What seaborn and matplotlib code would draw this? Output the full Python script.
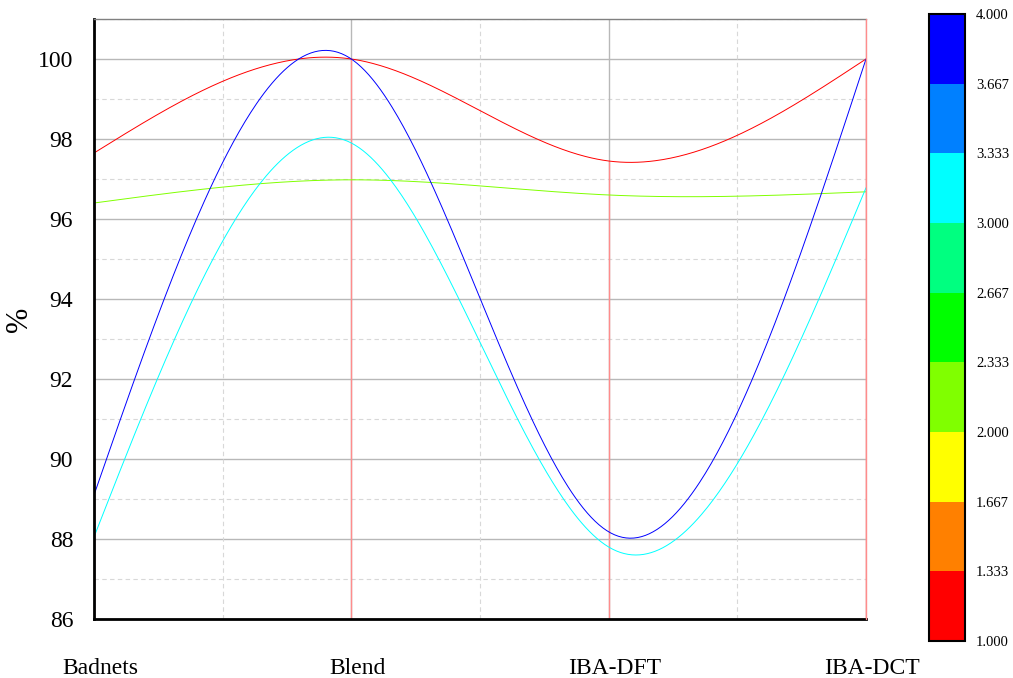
import numpy as np
import pandas as pd
import matplotlib
matplotlib.use("Agg")
import matplotlib.pyplot as plt
import matplotlib.colors as mcolors
import matplotlib.colorbar as mcolorbar
import matplotlib.transforms as mtransforms
import seaborn as sns

categories = ["Badnets", "Blend", "IBA-DFT", "IBA-DCT"]
series_red = [97.65, 100.0, 97.45, 100.0]
series_green = [96.40, 96.98, 96.60, 96.68]
series_cyan = [88.05, 97.90, 87.80, 96.78]
series_blue = [89.10, 100.0, 88.18, 100.0]
series_levels = [1, 2, 3, 4]
cbar_ticks = ["1.000", "1.333", "1.667", "2.000", "2.333", "2.667", "3.000", "3.333", "3.667", "4.000"]
cbar_colors = ["#FF0000", "#FF8000", "#FFFF00", "#80FF00", "#00FF00",
               "#00FF80", "#00FFFF", "#0080FF", "#0000FF"]

sns.set_theme(style="white")
plt.rcParams["font.family"] = ["Liberation Serif", "DejaVu Serif"]


def natural_spline(x, y, xs):
    x = np.asarray(x, float)
    y = np.asarray(y, float)
    n = len(x)
    h = np.diff(x)
    A = np.zeros((n, n))
    b = np.zeros(n)
    A[0, 0] = 1
    A[-1, -1] = 1
    for i in range(1, n - 1):
        A[i, i - 1] = h[i - 1]
        A[i, i] = 2 * (h[i - 1] + h[i])
        A[i, i + 1] = h[i]
        b[i] = 6 * ((y[i + 1] - y[i]) / h[i] - (y[i] - y[i - 1]) / h[i - 1])
    M = np.linalg.solve(A, b)
    out = np.empty_like(xs)
    for k, xv in enumerate(xs):
        i = min(max(np.searchsorted(x, xv) - 1, 0), n - 2)
        t0 = x[i + 1] - xv
        t1 = xv - x[i]
        hi = h[i]
        out[k] = (M[i] * t0 ** 3 / (6 * hi) + M[i + 1] * t1 ** 3 / (6 * hi)
                  + (y[i] / hi - M[i] * hi / 6) * t0
                  + (y[i + 1] / hi - M[i + 1] * hi / 6) * t1)
    return out


xpos = np.arange(len(categories))
xs = np.linspace(0, len(categories) - 1, 400)
series = {"1": series_red, "2": series_green, "3": series_cyan, "4": series_blue}
frames = []
for name, vals in series.items():
    frames.append(pd.DataFrame({"x": xs, "y": natural_spline(xpos, vals, xs), "s": name}))
df = pd.concat(frames, ignore_index=True)

cmap = mcolors.ListedColormap(cbar_colors)
bounds = np.linspace(1, 4, 10)
norm = mcolors.BoundaryNorm(bounds, cmap.N)
palette = {str(l): cmap(norm(l if l < 4 else 3.99)) for l in series_levels}

fig = plt.figure(figsize=(10.13, 6.78), dpi=100)
ax = fig.add_axes([94 / 1013, 1 - 619 / 678, 772 / 1013, 600 / 678])

ax.set_xlim(0, 3)
ax.set_ylim(86, 101)

# grid
for yv in range(86, 102):
    if yv % 2 == 0:
        ax.axhline(yv, color="#b8b8b8", lw=1.0, zorder=0)
    else:
        ax.axhline(yv, color="#d8d8d8", lw=0.8, ls=(0, (4, 3)), zorder=0)
for xv in np.arange(0, 3.01, 0.5):
    if abs(xv - round(xv)) < 1e-9:
        ax.axvline(xv, color="#b8b8b8", lw=1.0, zorder=0)
    else:
        ax.axvline(xv, color="#d8d8d8", lw=0.8, ls=(0, (4, 3)), zorder=0)

# drop lines from first series
ax.vlines(xpos, 86, series_red, color="#ff8c8c", lw=1.0, zorder=1)

sns.lineplot(data=df, x="x", y="y", hue="s", palette=palette, lw=0.7,
             legend=False, ax=ax, zorder=2, sort=False, estimator=None)

ax.set_xticks(xpos)
ax.set_xticklabels(categories)
ax.set_yticks(range(86, 101, 2))
ax.tick_params(axis="y", length=0, pad=15, labelsize=17, labelcolor="black")
ax.tick_params(axis="x", length=0, pad=28, labelsize=17, labelcolor="black")
offset = mtransforms.ScaledTranslation(6 / 100, 0, fig.dpi_scale_trans)
for lab in ax.get_xticklabels():
    lab.set_transform(lab.get_transform() + offset)
ax.set_xlabel("")
ax.set_ylabel("%", fontsize=22, labelpad=3, color="black")

for s in ["top", "right"]:
    ax.spines[s].set_color("#808080")
    ax.spines[s].set_linewidth(1.0)
for s in ["left", "bottom"]:
    ax.spines[s].set_color("black")
    ax.spines[s].set_linewidth(2.0)
ax.spines["right"].set_visible(False)
ax.axvline(3, color="#ff8c8c", lw=1.0, zorder=3, clip_on=False)

cax = fig.add_axes([929 / 1013, 1 - 641 / 678, 36 / 1013, 627 / 678])
cb = mcolorbar.ColorbarBase(cax, cmap=cmap, norm=norm, boundaries=bounds,
                            ticks=bounds, spacing="proportional")
cb.set_ticklabels(cbar_ticks)
cb.outline.set_linewidth(1.5)
cb.outline.set_edgecolor("black")
cax.tick_params(length=0, labelsize=10.5, pad=8, labelcolor="black")

fig.savefig("out.png", dpi=100)
